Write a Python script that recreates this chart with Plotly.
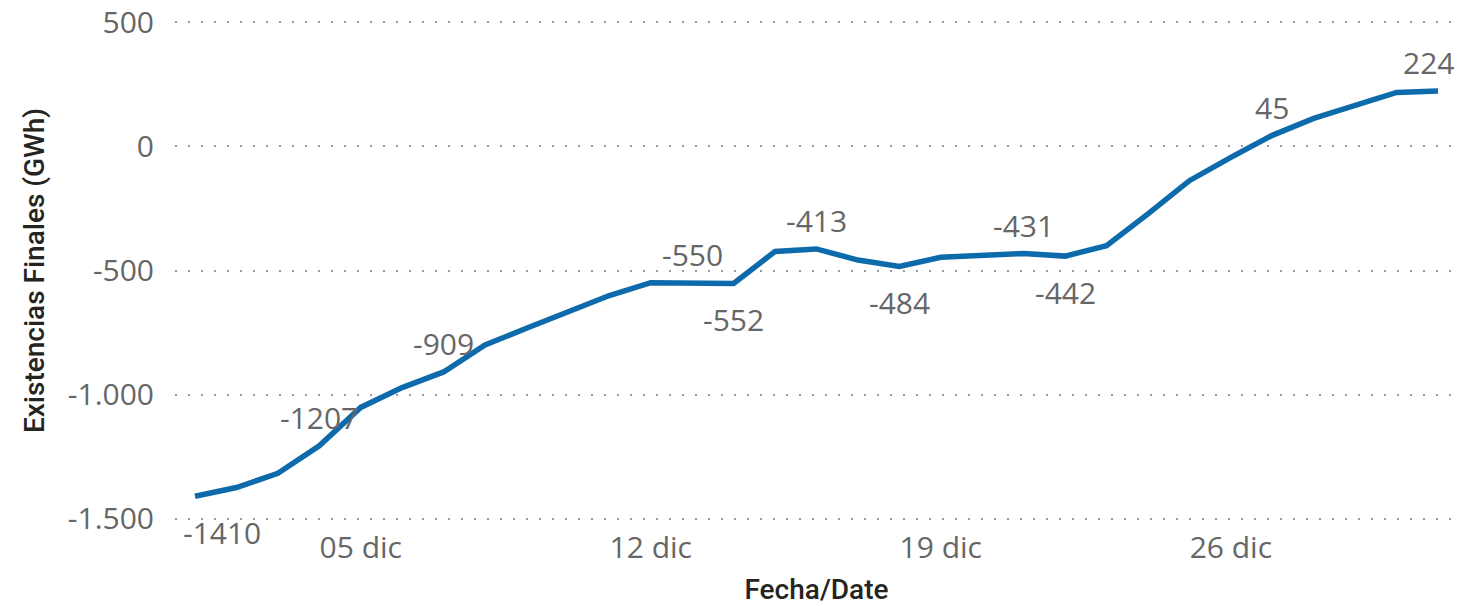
import plotly.graph_objects as go

dates = [f"2023-12-{d:02d}" for d in range(1, 32)]
values = [-1410, -1375, -1318, -1207, -1052, -972, -909, -800, -733, -667, -601,
          -549, -550, -552, -423, -413, -458, -484, -447, -438, -431, -442, -400,
          -272, -138, -44, 45, 113, 167, 218, 224]

# data labels: (day of month, position)
label_days = [1, 4, 7, 13, 14, 16, 18, 21, 22, 27, 31]
label_pos = ["below", "above", "above", "above", "below", "above", "below", "above", "below", "above", "above"]

x_tickvals = ["2023-12-05", "2023-12-12", "2023-12-19", "2023-12-26"]
x_ticktext = ["05 dic", "12 dic", "19 dic", "26 dic"]
y_tickvals = [-1500, -1000, -500, 0, 500]
y_ticktext = ["-1.500", "-1.000", "-500", "0", "500"]

LINE = "#0E6BAB"
GRAY = "#666666"
TICKFONT = dict(family="Open Sans, Noto Sans, sans-serif", size=30, color=GRAY)
TITLEFONT = dict(family="Roboto, sans-serif", size=28, color="#252423", weight=500)

fig = go.Figure()
fig.add_trace(go.Scatter(x=dates, y=values, mode="lines",
                         line=dict(color=LINE, width=5.5), hoverinfo="skip"))

for d, pos in zip(label_days, label_pos):
    i = d - 1
    xs = 0
    if d == 1:
        xs = 27
    if d == 31:
        xs = -10
    fig.add_annotation(x=dates[i], y=values[i], text=str(values[i]), showarrow=False,
                       font=TICKFONT, xanchor="center", yanchor="middle",
                       xshift=xs, yshift=(28 if pos == "above" else -36))

fig.update_layout(
    width=1458, height=606,
    margin=dict(l=175, r=0, t=20, b=85, autoexpand=False),
    paper_bgcolor="white", plot_bgcolor="white",
    showlegend=False,
    xaxis=dict(
        range=["2023-11-30 12:25", "2023-12-31 11:35"],
        tickvals=x_tickvals, ticktext=x_ticktext, automargin=False,
        tickfont=TICKFONT, showgrid=False, zeroline=False, showline=False,
        ticks="", ticklabelstandoff=6, ticklabeloverflow="allow",
        title=dict(text="Fecha/Date", font=TITLEFONT, standoff=20),
    ),
    yaxis=dict(
        range=[-1510, 510], automargin=False,
        tickvals=y_tickvals, ticktext=y_ticktext,
        tickfont=TICKFONT, showgrid=True, gridcolor="#999999", gridwidth=2,
        griddash="2px,11px", zeroline=False, showline=False, ticks="",
        ticklabelstandoff=20, ticklabeloverflow="allow",
        title=dict(text="Existencias Finales (GWh)", font=TITLEFONT, standoff=15),
    ),
)

fig.write_html("out.html", config={"displayModeBar": False},
               post_script="document.body.style.margin='0';document.body.style.padding='0';")
